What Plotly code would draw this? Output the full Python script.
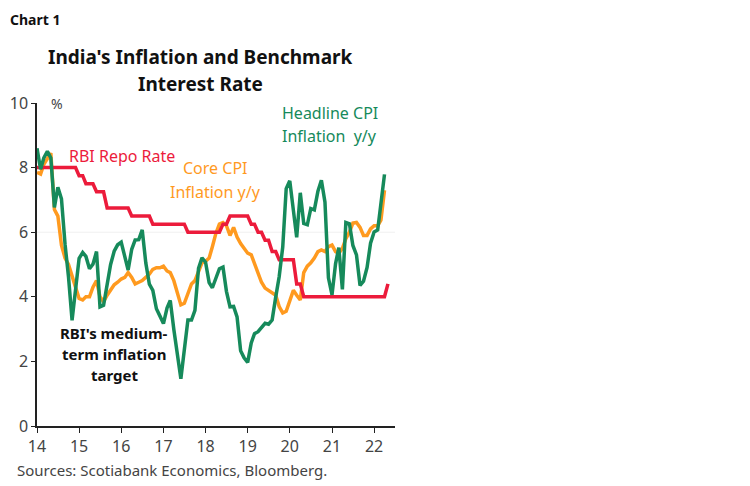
import pandas as pd
import plotly.graph_objects as go

# Monthly dates, Jan 2014 onwards
cpi_dates = pd.date_range("2014-01-01", periods=100, freq="MS")
repo_dates = pd.date_range("2014-01-01", periods=101, freq="MS")

headline_cpi = [
    8.6, 7.95, 8.3, 8.5, 8.3, 6.77, 7.39, 7.03, 5.63, 4.62, 3.27, 4.28,
    5.19, 5.37, 5.25, 4.87, 5.01, 5.40, 3.69, 3.74, 4.41, 5.00, 5.41, 5.61,
    5.69, 5.18, 4.83, 5.47, 5.76, 5.77, 6.07, 5.05, 4.39, 4.20, 3.63, 3.41,
    3.17, 3.65, 3.89, 2.99, 2.18, 1.46, 2.36, 3.28, 3.28, 3.58, 4.88, 5.21,
    5.07, 4.44, 4.28, 4.58, 4.87, 4.92, 4.17, 3.69, 3.70, 3.38, 2.33, 2.11,
    1.97, 2.57, 2.86, 2.92, 3.05, 3.18, 3.15, 3.28, 3.99, 4.62, 5.54, 7.35,
    7.59, 6.58, 5.84, 7.22, 6.27, 6.23, 6.73, 6.69, 7.27, 7.61, 6.93, 4.59,
    4.06, 5.03, 5.52, 4.23, 6.30, 6.26, 5.59, 5.30, 4.35, 4.48, 4.91, 5.66,
    6.01, 6.07, 6.95, 7.79,
]

core_cpi = [
    7.85, 7.8, 8.1, 8.3, 8.45, 6.7, 6.5, 5.6, 5.2, 5.0, 4.6, 4.3,
    3.95, 3.9, 4.0, 4.0, 4.3, 4.5, 4.0, 3.85, 4.05, 4.2, 4.37, 4.45,
    4.55, 4.6, 4.75, 4.6, 4.4, 4.45, 4.5, 4.6, 4.7, 4.85, 4.9, 4.9,
    4.95, 4.8, 4.75, 4.5, 4.15, 3.75, 3.8, 4.1, 4.4, 4.5, 4.8, 5.05,
    5.1, 5.2, 5.55, 5.97, 6.25, 6.3, 6.2, 5.9, 6.15, 5.85, 5.65, 5.5,
    5.35, 5.3, 5.05, 4.75, 4.45, 4.27, 4.2, 4.15, 4.05, 3.7, 3.5, 3.55,
    3.9, 4.2, 4.05, 3.9, 4.75, 4.95, 5.05, 5.2, 5.4, 5.45, 5.4, 5.55,
    5.6, 5.4, 5.35, 5.5, 5.8, 6.0, 6.28, 6.3, 6.15, 5.9, 5.9, 6.1,
    6.2, 6.2, 6.37, 7.3,
]

repo_rate = (
    [8.0] * 12 + [7.75] * 2 + [7.5] * 3 + [7.25] * 3 + [6.75] * 7 + [6.5] * 6
    + [6.25] * 10 + [6.0] * 10 + [6.25] * 2 + [6.5] * 6 + [6.25] * 2 + [6.0] * 2
    + [5.75] * 2 + [5.4] * 2 + [5.15] * 5 + [4.4] * 2 + [4.0] * 24 + [4.4]
)

year_ticks = [f"{y}-01-01" for y in range(2014, 2023)]
year_labels = [str(y)[2:] for y in range(2014, 2023)]

GREEN = "#168a5b"
ORANGE = "#ff9a1f"
RED = "#ec1b3b"

fig = go.Figure()
fig.add_trace(go.Scatter(x=cpi_dates, y=core_cpi, mode="lines",
                         line=dict(color=ORANGE, width=3.5), name="Core CPI"))
fig.add_trace(go.Scatter(x=repo_dates, y=repo_rate, mode="lines",
                         line=dict(color=RED, width=3.5), name="Repo"))
fig.add_trace(go.Scatter(x=cpi_dates, y=headline_cpi, mode="lines",
                         line=dict(color=GREEN, width=3.5), name="Headline CPI"))

FONT = "Noto Sans"
OFF = 8  # page body margin offset
W, H = 750, 486
L, R, T, B = 37 - OFF, W - 395 + OFF, 103 - OFF, H - 426 + OFF

fig.update_layout(
    width=W, height=H,
    margin=dict(l=L, r=R, t=T, b=B, autoexpand=False),
    paper_bgcolor="white", plot_bgcolor="white",
    showlegend=False,
    font=dict(family=FONT, color="#333333"),
    xaxis=dict(
        type="date", range=["2014-01-01", "2022-07-01"],
        tickvals=year_ticks, ticktext=year_labels,
        showgrid=False, zeroline=False, automargin=False,
        showline=True, linecolor="#222222", linewidth=1.5,
        ticks="outside", ticklen=5, tickcolor="#222222",
        tickfont=dict(size=16, color="#444444", family=FONT),
    ),
    yaxis=dict(
        range=[0, 10], tickvals=[0, 2, 4, 6, 8, 10],
        showgrid=False, zeroline=False, automargin=False,
        showline=True, linecolor="#222222", linewidth=1.5,
        ticks="outside", ticklen=4, tickcolor="#222222",
        tickfont=dict(size=16, color="#444444", family=FONT),
    ),
    shapes=[dict(type="line", xref="paper", yref="y", x0=0, x1=1, y0=6, y1=6,
                 line=dict(color="#f0f0f0", width=1), layer="below")],
)

ann = [
    dict(text="<b>Chart 1</b>", x=8, y=19, size=14, color="#111111", xanchor="left"),
    dict(text="<b>India's Inflation and Benchmark</b>", x=200, y=57, size=19, color="#111111", xanchor="center"),
    dict(text="<b>Interest Rate</b>", x=200, y=84, size=19, color="#111111", xanchor="center"),
    dict(text="%", x=49, y=103, size=14, color="#444444", xanchor="left"),
    dict(text="RBI Repo Rate", x=67, y=156, size=16, color=RED, xanchor="left"),
    dict(text="Core CPI", x=215, y=168, size=16, color=ORANGE, xanchor="center"),
    dict(text="Inflation y/y", x=215, y=192, size=16, color=ORANGE, xanchor="center"),
    dict(text="Headline CPI", x=280, y=113, size=16, color=GREEN, xanchor="left"),
    dict(text="Inflation  y/y", x=280, y=136, size=16, color=GREEN, xanchor="left"),
    dict(text="RBI's medium-", x=114, y=333, size=15, color="#111111", xanchor="center", bold=True),
    dict(text="term inflation", x=114, y=354, size=15, color="#111111", xanchor="center", bold=True),
    dict(text="target", x=114, y=375, size=15, color="#111111", xanchor="center", bold=True),
    dict(text="Sources: Scotiabank Economics, Bloomberg.", x=15, y=470, size=15, color="#444444", xanchor="left"),
]
PW, PH = W - L - R, H - T - B
for a in ann:
    txt = a["text"]
    if a.get("bold"):
        txt = f"<b>{txt}</b>"
    fx = a["x"] - OFF
    fy = a["y"] - OFF
    fig.add_annotation(
        text=txt, xref="paper", yref="paper",
        x=(fx - L) / PW,
        y=1 - (fy - T) / PH,
        xanchor=a["xanchor"], yanchor="middle", showarrow=False,
        font=dict(size=a["size"], color=a["color"], family=FONT),
    )

fig.write_html("out.html")
